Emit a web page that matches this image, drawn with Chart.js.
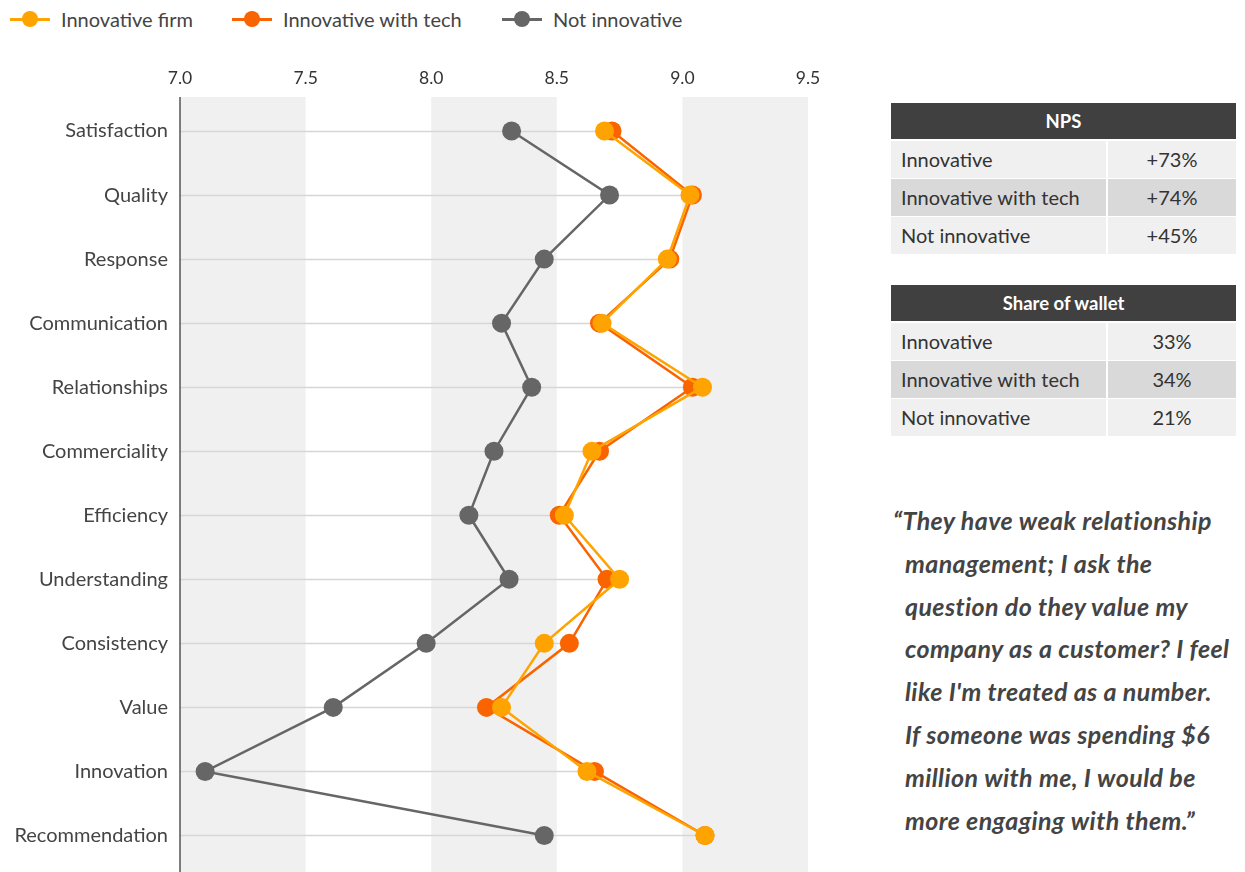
<!DOCTYPE html>
<html>
<head>
<meta charset="utf-8">
<script src="https://cdn.jsdelivr.net/npm/chart.js@4.4.1/dist/chart.umd.min.js"></script>
<style>
  body { margin: 0; background: #fff; width: 1245px; height: 872px; overflow: hidden; position: relative; font-family: Lato, "Open Sans", sans-serif; color: #444; }
  #legend { position: absolute; top: 6px; left: 0; height: 26px; width: 800px; }
  .item { position: absolute; top: 0; height: 26px; display: flex; align-items: center; font-size: 20px; color: #444; }
  .mark { position: relative; width: 40px; height: 26px; margin-right: 11px; }
  .mark .ln { position: absolute; left: 0; right: 0; top: 12px; height: 3px; }
  .mark .dot { position: absolute; left: 12px; top: 5px; width: 16px; height: 16px; border-radius: 50%; }
  #wrap { position: absolute; left: 0; top: 45px; width: 830px; height: 832px; }
  .tbl { position: absolute; left: 891px; width: 345px; }
  .tbl .hd { height: 36px; line-height: 36px; background: #404040; color: #fff; font-weight: bold; text-align: center; font-size: 18.5px; }
  .tbl .row { display: grid; grid-template-columns: 215px 128px; column-gap: 2px; margin-top: 2px; height: 36px; line-height: 37px; font-size: 20px; color: #333; }
  .tbl .row div { background: #f0f0f0; }
  .tbl .row.alt div { background: #d9d9d9; }
  .tbl .row div:first-child { padding-left: 10px; }
  .tbl .row div:last-child { text-align: center; }
  #quote { position: absolute; left: 893px; top: 499px; width: 352px; font-size: 25px; letter-spacing: 0.4px; line-height: 42.8px; font-weight: bold; font-style: italic; color: #444; padding-left: 12px; text-indent: -12px; box-sizing: border-box; white-space: nowrap; }
</style>
</head>
<body>
<div id="legend"></div>
<div id="wrap"><canvas id="chart"></canvas></div>
<div class="tbl" id="nps" style="top:103px"></div>
<div class="tbl" id="wallet" style="top:285px"></div>
<div id="quote">“They have weak relationship<br>management; I ask the<br>question do they value my<br>company as a customer? I feel<br>like I'm treated as a number.<br>If someone was spending $6<br>million with me, I would be<br>more engaging with them.”</div>
<script>
const categories = ["Satisfaction", "Quality", "Response", "Communication", "Relationships", "Commerciality",
  "Efficiency", "Understanding", "Consistency", "Value", "Innovation", "Recommendation"];
const innovativeFirm = [8.69, 9.03, 8.94, 8.68, 9.08, 8.64, 8.53, 8.75, 8.45, 8.28, 8.62, 9.09];
const innovativeTech = [8.72, 9.04, 8.95, 8.67, 9.04, 8.67, 8.51, 8.70, 8.55, 8.22, 8.65, 9.09];
const notInnovative = [8.32, 8.71, 8.45, 8.28, 8.40, 8.25, 8.15, 8.31, 7.98, 7.61, 7.10, 8.45];
const xTicks = [7.0, 7.5, 8.0, 8.5, 9.0, 9.5];

const seriesNames = ["Innovative firm", "Innovative with tech", "Not innovative"];
const seriesColors = ["#ffa300", "#fa6400", "#666666"];

const tableGroups = ["Innovative", "Innovative with tech", "Not innovative"];
const npsValues = ["+73%", "+74%", "+45%"];
const walletValues = ["33%", "34%", "21%"];

// legend
const legendLeft = [10, 232, 502];
const legend = document.getElementById("legend");
seriesNames.forEach((name, i) => {
  const el = document.createElement("div");
  el.className = "item";
  el.style.left = legendLeft[i] + "px";
  el.innerHTML = '<span class="mark"><span class="ln" style="background:' + seriesColors[i] + '"></span>' +
    '<span class="dot" style="background:' + seriesColors[i] + '"></span></span>' + name;
  legend.appendChild(el);
});

// side tables
function buildTable(id, title, values) {
  const box = document.getElementById(id);
  let html = '<div class="hd">' + title + '</div>';
  tableGroups.forEach((g, i) => {
    html += '<div class="row' + (i === 1 ? ' alt' : '') + '"><div>' + g + '</div><div>' + values[i] + '</div></div>';
  });
  box.innerHTML = html;
}
buildTable("nps", "NPS", npsValues);
buildTable("wallet", "Share of wallet", walletValues);

// background bands, row guides and the left axis line
const backdrop = {
  id: "backdrop",
  beforeDatasetsDraw(chart) {
    const { ctx, chartArea, scales } = chart;
    const x = scales.x, y = scales.y;
    const top = chartArea.top - 2, bottom = chart.height;
    ctx.save();
    ctx.fillStyle = "#f0f0f0";
    for (let i = 0; i < xTicks.length - 1; i += 2) {
      const a = x.getPixelForValue(xTicks[i]);
      const b = x.getPixelForValue(xTicks[i + 1]);
      ctx.fillRect(a, top, b - a, bottom - top);
    }
    ctx.strokeStyle = "#d6d6d6";
    ctx.lineWidth = 1.5;
    categories.forEach((c, i) => {
      const maxVal = Math.max(innovativeFirm[i], innovativeTech[i], notInnovative[i]);
      const py = Math.round(y.getPixelForValue(i)) + 0.5;
      ctx.beginPath();
      ctx.moveTo(x.left, py);
      ctx.lineTo(x.getPixelForValue(maxVal), py);
      ctx.stroke();
    });
    ctx.strokeStyle = "#555";
    ctx.lineWidth = 1.5;
    ctx.beginPath();
    ctx.moveTo(x.left, top);
    ctx.lineTo(x.left, bottom);
    ctx.stroke();
    ctx.restore();
  }
};

function series(i, data, order) {
  return {
    label: seriesNames[i],
    data: data,
    borderColor: seriesColors[i],
    backgroundColor: seriesColors[i],
    pointBackgroundColor: seriesColors[i],
    pointBorderWidth: 0,
    pointRadius: 9.5,
    borderWidth: 2.5,
    order: order
  };
}

new Chart(document.getElementById("chart").getContext("2d"), {
  type: "line",
  data: {
    labels: categories,
    datasets: [
      series(0, innovativeFirm, 0),
      series(1, innovativeTech, 1),
      series(2, notInnovative, 2)
    ]
  },
  options: {
    indexAxis: "y",
    responsive: true,
    maintainAspectRatio: false,
    animation: false,
    layout: { padding: { top: 0, right: 22, bottom: 0, left: 0 } },
    plugins: {
      legend: { display: false },
      tooltip: { enabled: false }
    },
    scales: {
      x: {
        type: "linear",
        position: "top",
        min: 7,
        max: 9.5,
        afterBuildTicks: s => { s.ticks = xTicks.map(v => ({ value: v })); },
        ticks: {
          callback: v => Number(v).toFixed(1),
          font: { family: "Lato", size: 17.5 },
          color: "#333",
          padding: 10
        },
        grid: { display: false, drawTicks: false },
        border: { display: false },
        afterFit: s => { s.height = 54; s.paddingLeft = 0; s.paddingRight = 0; }
      },
      y: {
        type: "category",
        offset: true,
        ticks: {
          font: { family: "Lato", size: 20 },
          color: "#444",
          padding: 12
        },
        grid: { display: false, drawTicks: false },
        border: { display: false },
        afterFit: s => { s.width = 180; s.paddingTop = 0; s.paddingBottom = 0; }
      }
    }
  },
  plugins: [backdrop]
});
</script>
</body>
</html>
